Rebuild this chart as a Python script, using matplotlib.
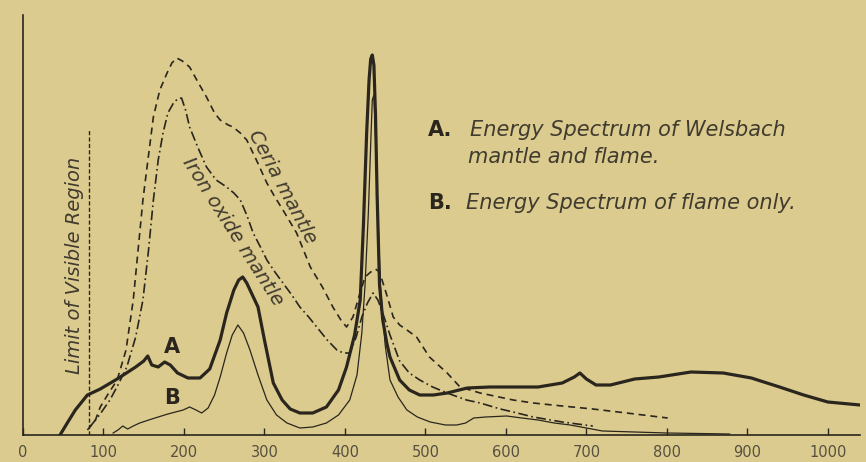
import matplotlib
matplotlib.use("Agg")
import matplotlib.pyplot as plt

plt.rcParams['lines.scale_dashes'] = False
plt.rcParams['font.family'] = ['DejaVu Sans']

# ---------------- data (wavelength-like x units, relative energy y units) -------------
a_x = [46, 55, 65, 80, 96, 117, 140, 150, 155, 160, 168, 176, 183, 192, 205, 220, 232,
       245, 253, 262, 268, 273, 278, 285, 292, 300, 311, 322, 332, 344, 360, 377, 392,
       402, 412, 419, 423, 427, 430, 432, 434, 436, 438, 440, 443, 447, 452, 456, 468,
       480, 493, 510, 527, 552, 580, 610, 640, 670, 685, 692, 700, 712, 730, 760, 790,
       830, 870, 905, 940, 970, 1000, 1040]
a_y = [0, 12, 25, 40, 46, 56, 68, 74, 79, 70, 68, 73, 70, 62, 57, 57, 66,
       95, 122, 145, 155, 158, 152, 140, 128, 95, 52, 35, 26, 22, 22, 28, 45,
       68, 100, 135, 210, 302, 355, 376, 380, 370, 320, 240, 150, 115, 92, 78, 55,
       45, 40, 40, 42, 47, 48, 48, 48, 52, 58, 62, 56, 50, 50, 56, 58,
       63, 62, 57, 48, 40, 33, 30]

b_x = [112, 118, 124, 130, 137, 145, 160, 180, 199, 207, 215, 222, 230, 238, 245, 253,
       260, 267, 274, 282, 292, 303, 315, 328, 344, 360, 377, 392, 406, 415, 421, 425,
       429, 432, 434, 436, 438, 441, 444, 450, 456, 466, 477, 490, 506, 525, 539, 550,
       560, 575, 601, 620, 640, 660, 680, 700, 720, 760, 800, 840, 878]
b_y = [2, 5, 9, 6, 9, 12, 16, 21, 25, 28, 25, 22, 27, 40, 58, 82,
       100, 110, 102, 85, 60, 35, 20, 12, 7, 8, 12, 20, 35, 60, 102, 150,
       220, 290, 335, 340, 300, 220, 150, 90, 55, 38, 25, 18, 13, 10, 10, 12,
       17, 18, 19, 17, 15, 12, 10, 7, 4, 3, 2, 1.5, 1]

ceria_x = [80, 90, 96, 105, 117, 128, 137, 143, 149, 156, 162, 170, 179, 185, 191, 198,
           207, 218, 228, 238, 245, 255, 261, 270, 278, 290, 303, 313, 323, 340, 357,
           372, 385, 395, 402, 410, 418, 425, 432, 438, 443, 452, 460, 468, 477, 489,
           505, 527, 543, 568, 609, 634, 670, 708, 750, 801]
ceria_y = [5, 15, 28, 40, 55, 85, 135, 185, 235, 280, 318, 345, 362, 372, 377, 374,
           368, 352, 338, 322, 315, 310, 308, 302, 295, 275, 252, 238, 225, 202, 168,
           148, 128, 115, 108, 118, 140, 158, 163, 166, 163, 140, 118, 110, 105, 98,
           78, 62, 48, 42, 35, 32, 29, 26, 22, 17]

iron_x = [83, 95, 108, 118, 129, 140, 149, 156, 162, 168, 174, 180, 187, 192, 197, 202,
          207, 217, 228, 240, 253, 262, 270, 278, 286, 295, 303, 313, 323, 334, 344,
          355, 365, 378, 390, 398, 406, 414, 421, 428, 435, 441, 447, 456, 468, 480,
          493, 509, 527, 551, 568, 593, 609, 634, 670, 708]
iron_y = [8, 20, 35, 50, 68, 98, 135, 185, 235, 275, 302, 322, 332, 336, 337, 325,
          308, 288, 268, 255, 248, 242, 235, 220, 202, 188, 175, 163, 152, 140, 128,
          118, 108, 95, 85, 82, 82, 98, 118, 132, 142, 135, 122, 100, 74, 62,
          55, 48, 42, 35, 32, 26, 23, 18, 13, 9]

visible_limit = 82
visible_top = 305
x_ticks = [0, 100, 200, 300, 400, 500, 600, 700, 800, 900, 1000]
x_labels = [str(t) for t in x_ticks]

# ---------------- styling --------------------------------------------------------------
BG = '#dccb8e'
INK = '#2a261e'
TXT = '#403b2f'

fig = plt.figure(figsize=(8.66, 4.62), dpi=100, facecolor=BG)
ax = fig.add_axes([23 / 866, 27 / 462, 837 / 866, 420 / 462])
ax.set_facecolor(BG)
ax.set_xlim(0, 1040)
ax.set_ylim(0, 420)

for s in ['top', 'right']:
    ax.spines[s].set_visible(False)
for s in ['left', 'bottom']:
    ax.spines[s].set_color(INK)
    ax.spines[s].set_linewidth(1.2)

ax.set_xticks(x_ticks)
ax.set_xticklabels(x_labels)
ax.tick_params(axis='x', direction='in', length=5, width=1.0, color=INK,
               labelsize=10.5, labelcolor='#565040', pad=7)
ax.set_yticks([])

# curves
ax.plot(a_x, a_y, color=INK, lw=2.3, solid_joinstyle='round', zorder=5)
ax.plot(b_x, b_y, color=INK, lw=0.9, zorder=5)
ax.plot(ceria_x, ceria_y, color=INK, lw=1.2, dashes=(5, 3.5), zorder=4)
ax.plot(iron_x, iron_y, color=INK, lw=1.2, dashes=(7, 2.5, 1.2, 2.5), zorder=4)
ax.plot([visible_limit, visible_limit], [0, visible_top], color=INK, lw=1.0,
        dashes=(3, 1.6), zorder=3)

# annotations
ax.text(64, 170, 'Limit of Visible Region', rotation=90, ha='center', va='center',
        fontsize=14, style='italic', color=TXT)
ax.text(185, 88, 'A', fontsize=15, fontweight='bold', color=INK, ha='center', va='center')
ax.text(185, 37, 'B', fontsize=15, fontweight='bold', color=INK, ha='center', va='center')
ax.text(322, 248, 'Ceria mantle', rotation=-62, rotation_mode='anchor', ha='center',
        va='center', fontsize=14, style='italic', color=TXT)
ax.text(261, 203, 'Iron oxide mantle', rotation=-57.5, rotation_mode='anchor',
        ha='center', va='center', fontsize=14, style='italic', color=TXT)

fig.text(428 / 866, 1 - 130 / 462, 'A.', fontsize=15, fontweight='bold', color=INK,
         va='center', ha='left')
fig.text(470 / 866, 1 - 130 / 462, 'Energy Spectrum of Welsbach', fontsize=15,
         style='italic', color=TXT, va='center', ha='left')
fig.text(468 / 866, 1 - 157 / 462, 'mantle and flame.', fontsize=15,
         style='italic', color=TXT, va='center', ha='left')
fig.text(428 / 866, 1 - 203 / 462, 'B.', fontsize=15, fontweight='bold', color=INK,
         va='center', ha='left')
fig.text(466 / 866, 1 - 203 / 462, 'Energy Spectrum of flame only.', fontsize=15,
         style='italic', color=TXT, va='center', ha='left')

fig.savefig('out.png', dpi=100, facecolor=BG)
